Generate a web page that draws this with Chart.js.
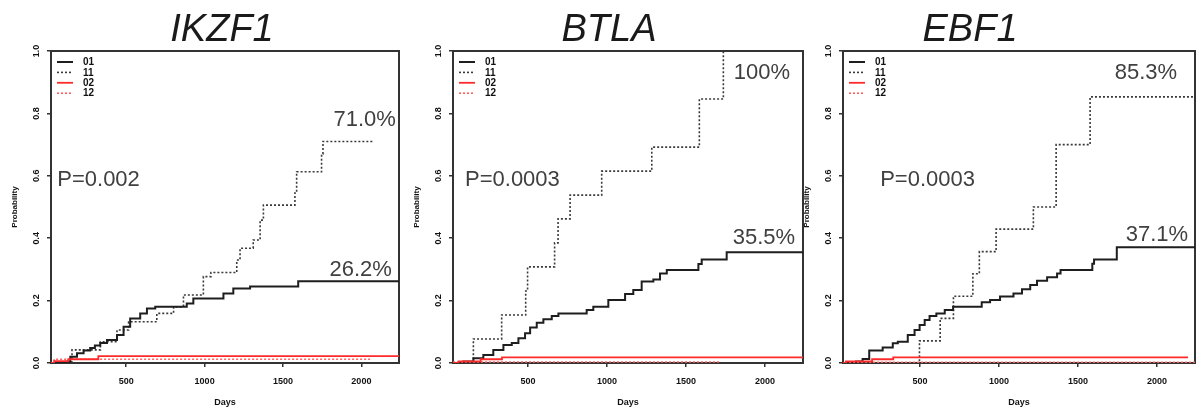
<!DOCTYPE html>
<html><head><meta charset="utf-8">
<script src="https://cdn.jsdelivr.net/npm/chart.js@4.4.1/dist/chart.umd.min.js"></script>
<style>
html,body{margin:0;padding:0;background:#fff;overflow:hidden;width:1197px;height:408px;position:relative;}
canvas{position:absolute;top:0;}
</style></head><body>
<canvas id="c0" width="420" height="408" style="left:0px"></canvas>
<canvas id="c1" width="420" height="408" style="left:402px"></canvas>
<canvas id="c2" width="405" height="408" style="left:792px"></canvas>
<script>
// ---------- data ----------
const panelTitles = ['IKZF1', 'BTLA', 'EBF1'];
const groupLabels = ['01', '11', '02', '12'];
const xTickValues = [500, 1000, 1500, 2000];
const yTickValues = [0, 0.2, 0.4, 0.6, 0.8, 1.0];
const xAxisTitle = 'Days';
const yAxisTitle = 'Probability';

// IKZF1
const ikzf1Days01 = [0, 115, 143, 186, 228, 270, 300, 334, 377, 441, 483, 525, 589, 632, 685, 886, 928, 1120, 1183, 1290, 1597, 2240];
const ikzf1Prob01 = [0, 0.004, 0.02, 0.031, 0.04, 0.048, 0.056, 0.064, 0.074, 0.09, 0.116, 0.143, 0.159, 0.175, 0.18, 0.191, 0.207, 0.223, 0.239, 0.245, 0.262, 0.262];
const ikzf1Days11 = [0, 122, 154, 335, 441, 515, 695, 802, 865, 992, 1040, 1205, 1226, 1310, 1354, 1375, 1576, 1587, 1746, 1755, 2075];
const ikzf1Prob11 = [0, 0.004, 0.042, 0.068, 0.106, 0.132, 0.159, 0.18, 0.218, 0.277, 0.29, 0.33, 0.368, 0.394, 0.458, 0.506, 0.545, 0.613, 0.67, 0.71, 0.71];
const ikzf1Days02 = [0, 40, 130, 322, 2240];
const ikzf1Prob02 = [0, 0.006, 0.012, 0.022, 0.022];
const ikzf1Days12 = [0, 40, 2055];
const ikzf1Prob12 = [0, 0.012, 0.012];

// BTLA
const btlaDays01 = [0, 90, 154, 217, 280, 344, 397, 439, 481, 513, 555, 597, 650, 692, 871, 913, 1008, 1114, 1166, 1219, 1293, 1335, 1378, 1578, 1599, 1757, 2240];
const btlaProb01 = [0, 0.005, 0.015, 0.026, 0.042, 0.058, 0.064, 0.079, 0.095, 0.114, 0.129, 0.14, 0.151, 0.159, 0.17, 0.18, 0.202, 0.221, 0.234, 0.261, 0.268, 0.287, 0.298, 0.317, 0.332, 0.355, 0.355];
const btlaDays11 = [0, 154, 333, 485, 497, 668, 690, 766, 966, 1283, 1584, 1736];
const btlaProb11 = [0, 0.077, 0.154, 0.231, 0.308, 0.385, 0.462, 0.538, 0.615, 0.692, 0.846, 1.0];
const btlaDays02 = [0, 60, 200, 335, 2240];
const btlaProb02 = [0, 0.005, 0.012, 0.018, 0.018];
const btlaDays12 = [0, 1715];
const btlaProb12 = [0.003, 0.003];

// EBF1
const ebf1Days01 = [0, 94, 136, 178, 263, 327, 359, 422, 465, 497, 529, 560, 603, 656, 709, 890, 943, 1006, 1091, 1145, 1197, 1240, 1304, 1367, 1389, 1590, 1601, 1745, 2240];
const ebf1Prob01 = [0, 0.005, 0.013, 0.04, 0.05, 0.063, 0.068, 0.09, 0.106, 0.122, 0.138, 0.151, 0.159, 0.17, 0.18, 0.195, 0.202, 0.213, 0.223, 0.236, 0.25, 0.264, 0.275, 0.287, 0.298, 0.318, 0.332, 0.371, 0.371];
const ebf1Days11 = [0, 496, 627, 711, 834, 875, 981, 1217, 1361, 1576, 2240];
const ebf1Prob11 = [0, 0.071, 0.143, 0.214, 0.286, 0.357, 0.429, 0.5, 0.7, 0.853, 0.853];
const ebf1Days02 = [0, 30, 196, 330, 2196];
const ebf1Prob02 = [0, 0.005, 0.012, 0.018, 0.018];
const ebf1Days12 = [0, 2240];
const ebf1Prob12 = [0.002, 0.002];

// annotations (text + anchor in data units)
const ikzf1NoteText = ['P=0.002', '71.0%', '26.2%'];
const ikzf1NoteX = [60, 2220, 2194];
const ikzf1NoteY = [0.587, 0.779, 0.298];
const btlaNoteText = ['P=0.0003', '100%', '35.5%'];
const btlaNoteX = [101, 2158, 2190];
const btlaNoteY = [0.587, 0.929, 0.401];
const ebf1NoteText = ['P=0.0003', '85.3%', '37.1%'];
const ebf1NoteX = [247, 2127, 2196];
const ebf1NoteY = [0.587, 0.929, 0.41];
const noteAlign = ['left', 'right', 'right'];

// ---------- layout / style ----------
const FONT = '"Liberation Sans", Arial, Helvetica, sans-serif';
const xMin = [20, 25, 12];
const xMax = [2240, 2240, 2240];
const rightPad = [21, 19, 2];
const titleCenterX = [222, 207, 178];
const groupStyles = [
  {color: '#1e1e1e', dash: [], width: 2},
  {color: '#3a3a3a', dash: [2, 2], width: 1.6},
  {color: '#ff2b2b', dash: [], width: 1.8},
  {color: '#ff6060', dash: [2, 2], width: 1.6}
];

const panels = [
  {series: [[ikzf1Days01, ikzf1Prob01], [ikzf1Days11, ikzf1Prob11], [ikzf1Days02, ikzf1Prob02], [ikzf1Days12, ikzf1Prob12]],
   notes: [ikzf1NoteText, ikzf1NoteX, ikzf1NoteY]},
  {series: [[btlaDays01, btlaProb01], [btlaDays11, btlaProb11], [btlaDays02, btlaProb02], [btlaDays12, btlaProb12]],
   notes: [btlaNoteText, btlaNoteX, btlaNoteY]},
  {series: [[ebf1Days01, ebf1Prob01], [ebf1Days11, ebf1Prob11], [ebf1Days02, ebf1Prob02], [ebf1Days12, ebf1Prob12]],
   notes: [ebf1NoteText, ebf1NoteX, ebf1NoteY]}
];

const boxPlugin = {
  id: 'box',
  beforeDatasetsDraw(chart) {
    const {ctx, chartArea: a} = chart;
    ctx.save();
    ctx.strokeStyle = '#333';
    ctx.lineWidth = 2;
    ctx.strokeRect(a.left, a.top, a.right - a.left, a.bottom - a.top);
    ctx.restore();
  }
};

const legendPlugin = {
  id: 'innerLegend',
  afterDatasetsDraw(chart) {
    const {ctx, chartArea: a} = chart;
    ctx.save();
    chart.data.datasets.forEach((ds, k) => {
      const y = a.top + 11 + k * 10.4;
      ctx.strokeStyle = ds.borderColor;
      ctx.lineWidth = ds.borderWidth;
      ctx.setLineDash(ds.borderDash || []);
      ctx.beginPath();
      ctx.moveTo(a.left + 6, y);
      ctx.lineTo(a.left + 22, y);
      ctx.stroke();
      ctx.setLineDash([]);
      ctx.fillStyle = '#111';
      ctx.font = 'bold 10px ' + FONT;
      ctx.textAlign = 'left';
      ctx.textBaseline = 'middle';
      ctx.fillText(ds.label, a.left + 32, y + 0.5);
    });
    ctx.restore();
  }
};

const notesPlugin = {
  id: 'notes',
  afterDatasetsDraw(chart, args, opts) {
    const {ctx, scales} = chart;
    const [texts, xs, ys] = opts.notes;
    ctx.save();
    ctx.font = '22px ' + FONT;
    ctx.fillStyle = '#404040';
    ctx.textBaseline = 'middle';
    texts.forEach((t, i) => {
      ctx.textAlign = noteAlign[i];
      ctx.fillText(t, scales.x.getPixelForValue(xs[i]), scales.y.getPixelForValue(ys[i]));
    });
    ctx.restore();
  }
};

const titlePlugin = {
  id: 'panelTitle',
  afterDraw(chart, args, opts) {
    const {ctx} = chart;
    ctx.save();
    ctx.font = 'italic 38px ' + FONT;
    ctx.fillStyle = '#1a1a1a';
    ctx.textAlign = 'center';
    ctx.textBaseline = 'middle';
    ctx.fillText(opts.text, opts.x, 30);
    ctx.restore();
  }
};

const tickFont = {family: FONT, size: 9, weight: 'bold'};

panels.forEach((p, i) => {
  const datasets = p.series.map((s, k) => ({
    label: groupLabels[k],
    data: s[0].map((d, j) => ({x: d, y: s[1][j]})),
    borderColor: groupStyles[k].color,
    borderDash: groupStyles[k].dash,
    borderWidth: groupStyles[k].width,
    stepped: 'before',
    pointRadius: 0,
    fill: false,
    tension: 0
  }));
  const ordered = [datasets[2], datasets[3], datasets[0], datasets[1]];
  ordered.forEach((d, idx) => d.order = idx);
  new Chart(document.getElementById('c' + i), {
    type: 'line',
    data: {datasets: datasets},
    options: {
      responsive: false,
      animation: false,
      devicePixelRatio: 1,
      layout: {padding: {left: 0, right: rightPad[i], top: 51, bottom: 0}},
      plugins: {
        legend: {display: false},
        tooltip: {enabled: false},
        title: {display: false},
        notes: {notes: p.notes},
        panelTitle: {text: panelTitles[i], x: titleCenterX[i]}
      },
      scales: {
        x: {
          type: 'linear', min: xMin[i], max: xMax[i],
          afterBuildTicks: s => { s.ticks = xTickValues.map(v => ({value: v})); },
          afterFit: s => { s.height = 45; },
          grid: {drawOnChartArea: false, drawTicks: true, tickLength: 4, color: '#333', lineWidth: 1.5},
          border: {display: false},
          ticks: {font: tickFont, color: '#111', padding: 9, maxRotation: 0, autoSkip: false, callback: v => String(v)},
          title: {display: true, text: xAxisTitle, font: tickFont, color: '#111', padding: {top: 0, bottom: 0}}
        },
        y: {
          type: 'linear', min: 0, max: 1,
          afterBuildTicks: s => { s.ticks = yTickValues.map(v => ({value: v})); },
          afterFit: s => { s.width = 51; },
          grid: {drawOnChartArea: false, drawTicks: true, tickLength: 4, color: '#333', lineWidth: 1.5},
          border: {display: false},
          ticks: {font: tickFont, color: '#111', padding: 4, minRotation: 90, maxRotation: 90, crossAlign: 'center', callback: v => v.toFixed(1)},
          title: {display: true, text: yAxisTitle, font: {family: FONT, size: 8, weight: 'bold'}, color: '#111', padding: {top: 10, bottom: 0}}
        }
      }
    },
    plugins: [boxPlugin, legendPlugin, notesPlugin, titlePlugin]
  });
});
</script>
</body></html>
